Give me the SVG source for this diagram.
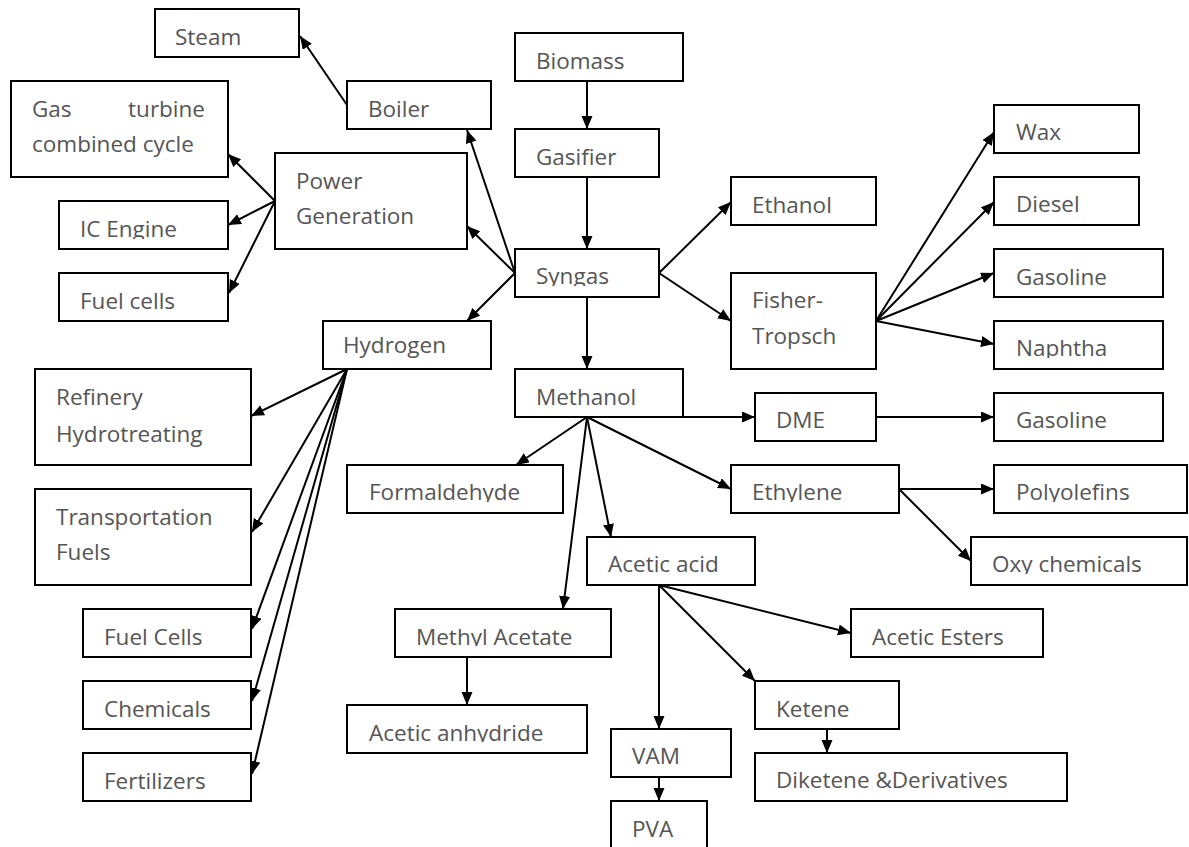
<svg xmlns="http://www.w3.org/2000/svg" width="1189" height="847" viewBox="0 0 1189 847">
<style>
.b{fill:#fff;stroke:#000;stroke-width:2}
.t{font-family:"Open Sans","Liberation Sans",sans-serif;font-size:22.5px;fill:#555}
.c line{stroke:#000;stroke-width:2;marker-end:url(#ah)}
</style>
<defs>
<marker id="ah" markerUnits="userSpaceOnUse" markerWidth="14" markerHeight="12" refX="13" refY="5.5" orient="auto"><path d="M0,0 L13,5.5 L0,11 z" fill="#000"/></marker>
<clipPath id="cIC"><rect x="59" y="201" width="169" height="38"/></clipPath>
<clipPath id="cSy"><rect x="515" y="249" width="144" height="37"/></clipPath>
<clipPath id="cNa"><rect x="994" y="321" width="169" height="37"/></clipPath>
<clipPath id="cFo"><rect x="347" y="465" width="216" height="37"/></clipPath>
<clipPath id="cEt"><rect x="731" y="465" width="168" height="37"/></clipPath>
<clipPath id="cPo"><rect x="994" y="465" width="193" height="37"/></clipPath>
<clipPath id="cOx"><rect x="971" y="537" width="216" height="37"/></clipPath>
<clipPath id="cAa"><rect x="587" y="537" width="168" height="37"/></clipPath>
<clipPath id="cMA"><rect x="395" y="609" width="216" height="37"/></clipPath>
<clipPath id="cAn"><rect x="347" y="705" width="240" height="37"/></clipPath>
</defs>
<rect width="1189" height="847" fill="#fff"/>
<g class="c" id="connectors">
<line x1="347" y1="105" x2="300" y2="36"/>
<line x1="275" y1="201" x2="228" y2="154"/>
<line x1="275" y1="201" x2="228" y2="225"/>
<line x1="275" y1="201" x2="229" y2="293"/>
<line x1="515" y1="273" x2="467" y2="130"/>
<line x1="515" y1="273" x2="467" y2="226"/>
<line x1="515" y1="273" x2="467" y2="321"/>
<line x1="587" y1="81" x2="587" y2="129"/>
<line x1="587" y1="177" x2="587" y2="249"/>
<line x1="587" y1="297" x2="587" y2="369"/>
<line x1="659" y1="273" x2="731" y2="202"/>
<line x1="659" y1="273" x2="731" y2="321"/>
<line x1="876" y1="321" x2="994" y2="132"/>
<line x1="876" y1="321" x2="994" y2="202"/>
<line x1="876" y1="321" x2="994" y2="273"/>
<line x1="876" y1="321" x2="994" y2="344"/>
<line x1="347" y1="369" x2="251" y2="416"/>
<line x1="347" y1="369" x2="252" y2="532"/>
<line x1="347" y1="369" x2="252" y2="629"/>
<line x1="347" y1="369" x2="252" y2="701"/>
<line x1="347" y1="369" x2="252" y2="774"/>
<line x1="683" y1="417" x2="755" y2="417"/>
<line x1="876" y1="417" x2="994" y2="417"/>
<line x1="587" y1="417" x2="516" y2="465"/>
<line x1="587" y1="417" x2="731" y2="489"/>
<line x1="587" y1="417" x2="611" y2="537"/>
<line x1="587" y1="417" x2="563" y2="609"/>
<line x1="899" y1="489" x2="994" y2="489"/>
<line x1="899" y1="489" x2="971" y2="561"/>
<line x1="659" y1="585" x2="851" y2="633"/>
<line x1="659" y1="585" x2="755" y2="681"/>
<line x1="659" y1="585" x2="659" y2="729"/>
<line x1="659" y1="777" x2="659" y2="801"/>
<line x1="467" y1="657" x2="467" y2="705"/>
<line x1="827" y1="729" x2="827" y2="753"/>
</g>
<g id="steam"><rect class="b" x="155" y="9" width="144" height="48"/><text class="t" x="175" y="45">Steam</text></g>
<g id="gasturbine"><rect class="b" x="11" y="81" width="217" height="96"/><text class="t" x="32" y="117">Gas</text><text class="t" x="205" y="117" text-anchor="end">turbine</text><text class="t" x="32" y="152">combined cycle</text></g>
<g id="boiler"><rect class="b" x="347" y="81" width="144" height="48"/><text class="t" x="368" y="117">Boiler</text></g>
<g id="power"><rect class="b" x="275" y="153" width="192" height="96"/><text class="t" x="296" y="189">Power</text><text class="t" x="296" y="224">Generation</text></g>
<g id="icengine"><rect class="b" x="59" y="201" width="169" height="48"/><text class="t" x="80" y="237" clip-path="url(#cIC)">IC Engine</text></g>
<g id="fuelcells1"><rect class="b" x="59" y="273" width="169" height="48"/><text class="t" x="80" y="309">Fuel cells</text></g>
<g id="biomass"><rect class="b" x="515" y="33" width="168" height="48"/><text class="t" x="536" y="69">Biomass</text></g>
<g id="gasifier"><rect class="b" x="515" y="129" width="144" height="48"/><text class="t" x="536" y="165">Gasifier</text></g>
<g id="syngas"><rect class="b" x="515" y="249" width="144" height="48"/><text class="t" x="536" y="284" clip-path="url(#cSy)">Syngas</text></g>
<g id="ethanol"><rect class="b" x="731" y="177" width="145" height="48"/><text class="t" x="752" y="213">Ethanol</text></g>
<g id="ft"><rect class="b" x="731" y="273" width="145" height="96"/><text class="t" x="752" y="308">Fisher-</text><text class="t" x="752" y="344">Tropsch</text></g>
<g id="wax"><rect class="b" x="994" y="105" width="145" height="48"/><text class="t" x="1016" y="140">Wax</text></g>
<g id="diesel"><rect class="b" x="994" y="177" width="145" height="48"/><text class="t" x="1016" y="212">Diesel</text></g>
<g id="gasoline1"><rect class="b" x="994" y="249" width="169" height="48"/><text class="t" x="1016" y="285">Gasoline</text></g>
<g id="naphtha"><rect class="b" x="994" y="321" width="169" height="48"/><text class="t" x="1016" y="356" clip-path="url(#cNa)">Naphtha</text></g>
<g id="hydrogen"><rect class="b" x="323" y="321" width="168" height="48"/><text class="t" x="343" y="353">Hydrogen</text></g>
<g id="refinery"><rect class="b" x="35" y="369" width="216" height="96"/><text class="t" x="56" y="405">Refinery</text><text class="t" x="56" y="442">Hydrotreating</text></g>
<g id="transport"><rect class="b" x="35" y="489" width="216" height="96"/><text class="t" x="56" y="525">Transportation</text><text class="t" x="56" y="560">Fuels</text></g>
<g id="fuelcells2"><rect class="b" x="83" y="609" width="168" height="48"/><text class="t" x="104" y="645">Fuel Cells</text></g>
<g id="chemicals"><rect class="b" x="83" y="681" width="168" height="48"/><text class="t" x="104" y="717">Chemicals</text></g>
<g id="fertilizers"><rect class="b" x="83" y="753" width="168" height="48"/><text class="t" x="104" y="789">Fertilizers</text></g>
<g id="methanol"><rect class="b" x="515" y="369" width="168" height="48"/><text class="t" x="536" y="405">Methanol</text></g>
<g id="dme"><rect class="b" x="755" y="393" width="121" height="48"/><text class="t" x="776" y="428">DME</text></g>
<g id="gasoline2"><rect class="b" x="994" y="393" width="169" height="48"/><text class="t" x="1016" y="428">Gasoline</text></g>
<g id="formaldehyde"><rect class="b" x="347" y="465" width="216" height="48"/><text class="t" x="369" y="500" clip-path="url(#cFo)">Formaldehyde</text></g>
<g id="ethylene"><rect class="b" x="731" y="465" width="168" height="48"/><text class="t" x="752" y="500" clip-path="url(#cEt)">Ethylene</text></g>
<g id="polyolefins"><rect class="b" x="994" y="465" width="193" height="48"/><text class="t" x="1016" y="500" clip-path="url(#cPo)">Polyolefins</text></g>
<g id="oxy"><rect class="b" x="971" y="537" width="216" height="48"/><text class="t" x="992" y="572" clip-path="url(#cOx)">Oxy chemicals</text></g>
<g id="aceticacid"><rect class="b" x="587" y="537" width="168" height="48"/><text class="t" x="608" y="572" clip-path="url(#cAa)">Acetic acid</text></g>
<g id="methylacetate"><rect class="b" x="395" y="609" width="216" height="48"/><text class="t" x="416" y="645" clip-path="url(#cMA)">Methyl Acetate</text></g>
<g id="aceticesters"><rect class="b" x="851" y="609" width="192" height="48"/><text class="t" x="872" y="645">Acetic Esters</text></g>
<g id="anhydride"><rect class="b" x="347" y="705" width="240" height="48"/><text class="t" x="369" y="741" clip-path="url(#cAn)">Acetic anhydride</text></g>
<g id="ketene"><rect class="b" x="755" y="681" width="144" height="48"/><text class="t" x="776" y="717">Ketene</text></g>
<g id="diketene"><rect class="b" x="755" y="753" width="312" height="48"/><text class="t" x="776" y="788">Diketene &amp;Derivatives</text></g>
<g id="vam"><rect class="b" x="611" y="729" width="120" height="48"/><text class="t" x="632" y="764">VAM</text></g>
<g id="pva"><rect class="b" x="611" y="801" width="96" height="60"/><text class="t" x="632" y="837">PVA</text></g>
</svg>
